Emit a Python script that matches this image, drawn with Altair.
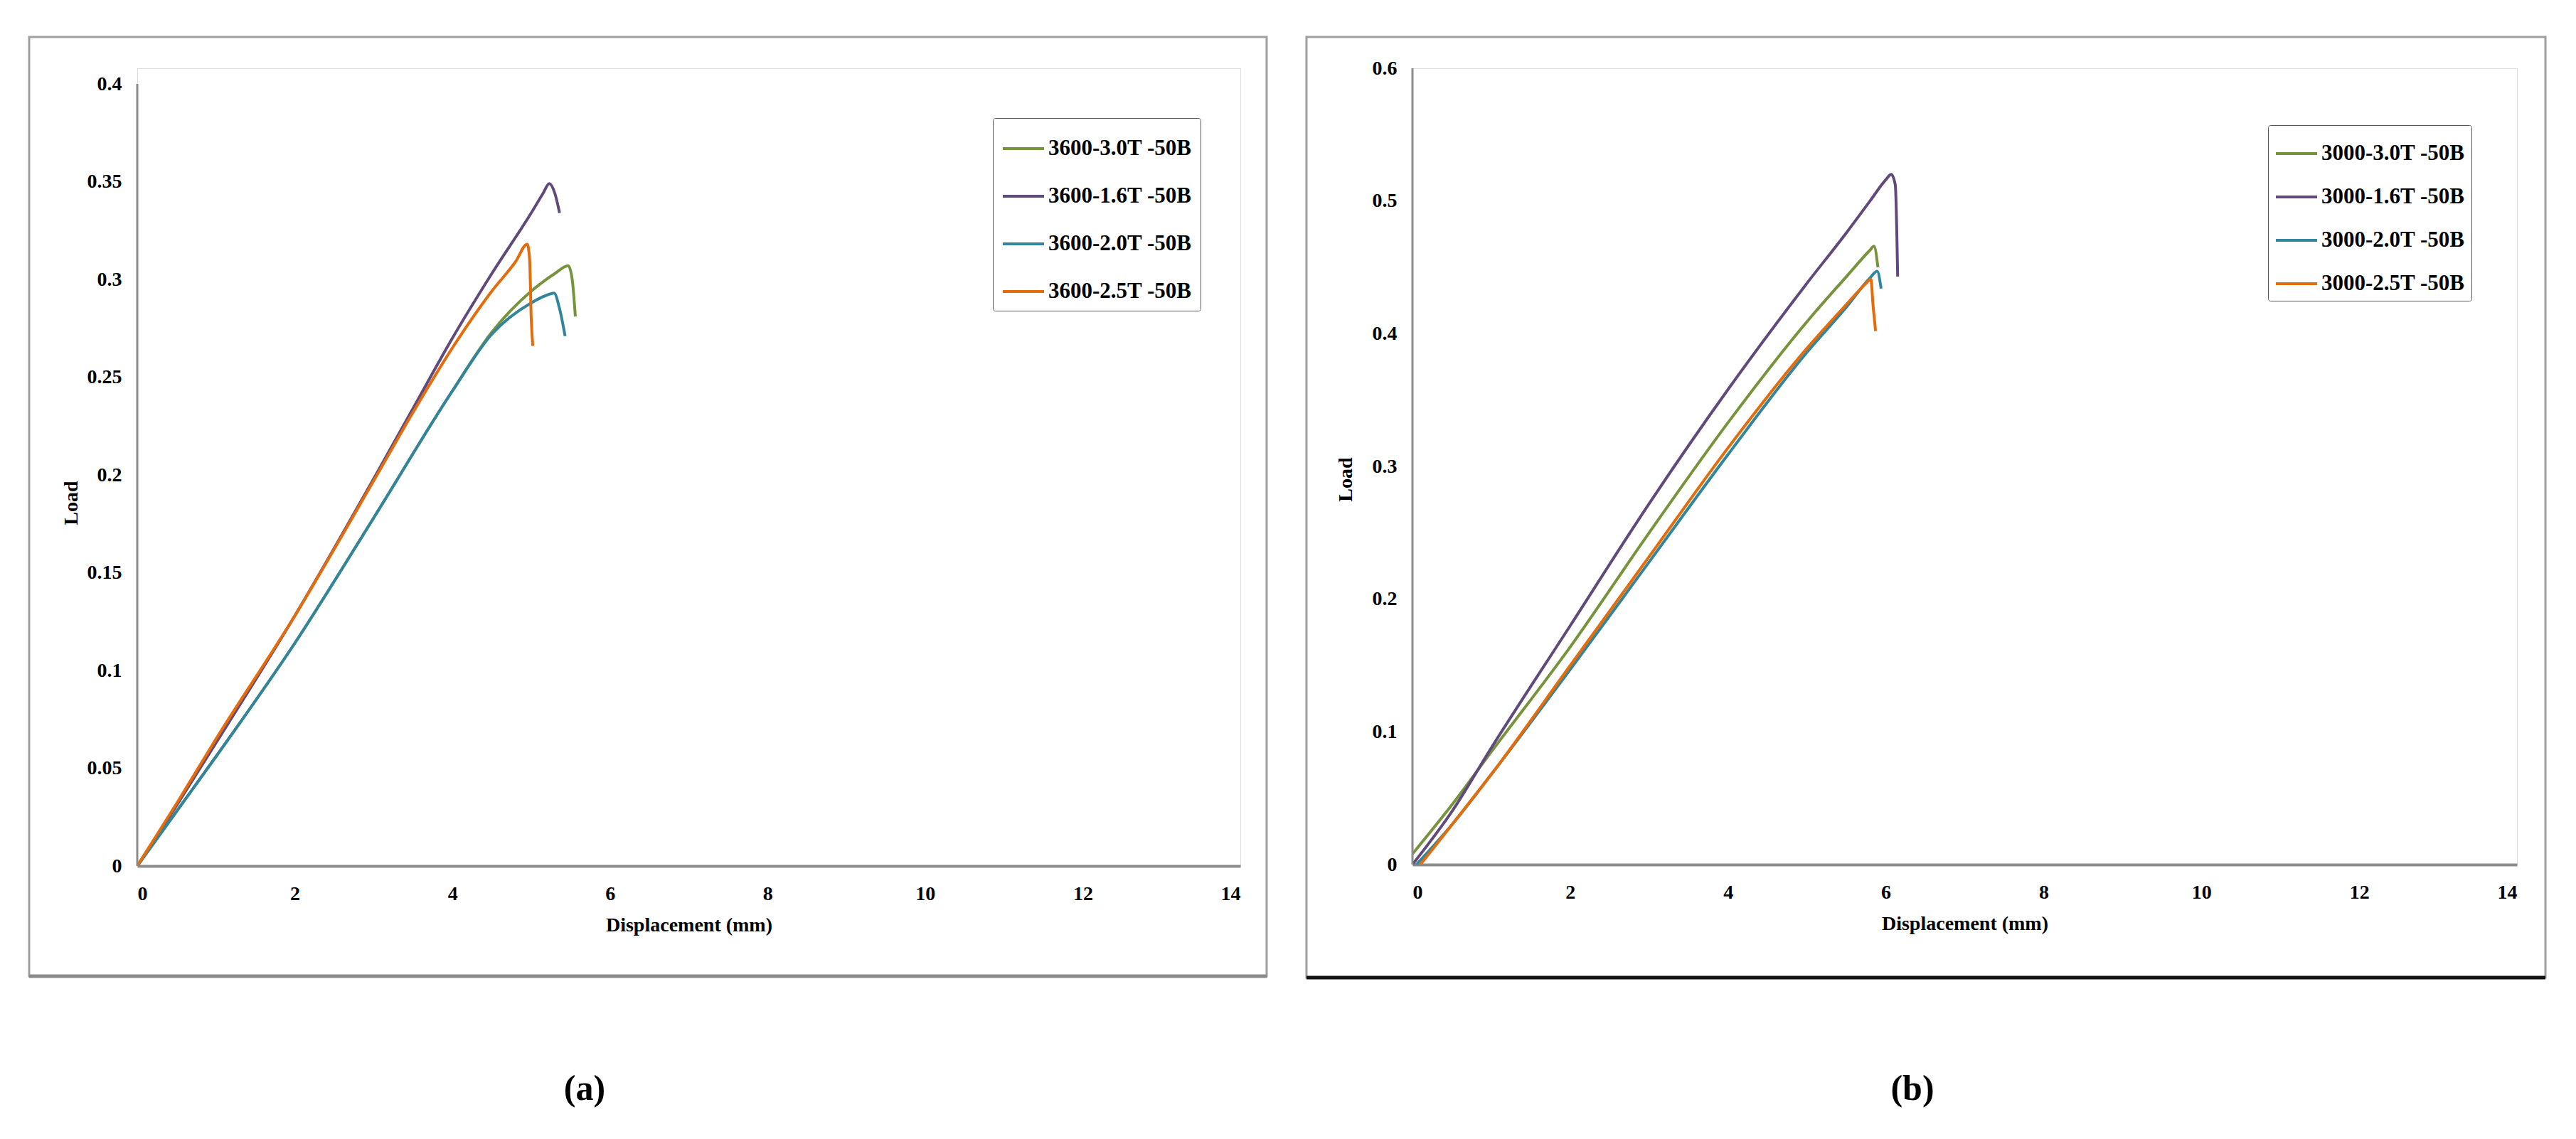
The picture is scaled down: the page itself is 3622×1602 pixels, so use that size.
import altair as alt
import pandas as pd

FONT = "Liberation Serif"

# ---------------- Panel (a): 3600 series ----------------
a_names = ["3600-3.0T -50B", "3600-1.6T -50B", "3600-2.0T -50B", "3600-2.5T -50B"]
a_x_30 = [0, 0.5, 1, 2, 3, 4, 4.5, 5, 5.3, 5.47, 5.52, 5.56]
a_y_30 = [0, 0.028, 0.056, 0.114, 0.178, 0.243, 0.273, 0.294, 0.303, 0.307, 0.300, 0.281]
a_x_16 = [0, 0.5, 1, 2, 3, 3.5, 4, 4.5, 5, 5.15, 5.23, 5.3, 5.36]
a_y_16 = [0, 0.031, 0.063, 0.128, 0.198, 0.234, 0.270, 0.303, 0.334, 0.344, 0.349, 0.344, 0.334]
a_x_20 = [0, 0.5, 1, 2, 3, 4, 4.5, 5, 5.2, 5.29, 5.36, 5.43]
a_y_20 = [0, 0.028, 0.056, 0.114, 0.178, 0.243, 0.272, 0.288, 0.292, 0.293, 0.285, 0.271]
a_x_25 = [0, 0.5, 1, 2, 3, 3.5, 4, 4.5, 4.8, 4.95, 4.98, 5.0, 5.02]
a_y_25 = [0, 0.032, 0.065, 0.128, 0.197, 0.232, 0.265, 0.294, 0.309, 0.318, 0.31, 0.28, 0.266]

# ---------------- Panel (b): 3000 series ----------------
b_names = ["3000-3.0T -50B", "3000-1.6T -50B", "3000-2.0T -50B", "3000-2.5T -50B"]
b_x_30 = [0, 0.5, 1, 2, 3, 4, 5, 5.5, 5.8, 5.85, 5.9]
b_y_30 = [0.008, 0.045, 0.085, 0.164, 0.250, 0.333, 0.409, 0.443, 0.463, 0.466, 0.450]
b_x_16 = [0, 0.5, 1, 2, 3, 4, 5, 5.5, 5.8, 6.0, 6.07, 6.12, 6.15]
b_y_16 = [0, 0.040, 0.088, 0.180, 0.272, 0.358, 0.438, 0.476, 0.500, 0.516, 0.520, 0.512, 0.443]
b_x_20 = [0.05, 0.5, 1, 2, 3, 4, 5, 5.5, 5.8, 5.89, 5.94]
b_y_20 = [0, 0.030, 0.068, 0.147, 0.228, 0.309, 0.386, 0.420, 0.442, 0.447, 0.434]
b_x_25 = [0.1, 0.5, 1, 2, 3, 4, 5, 5.5, 5.75, 5.81, 5.84, 5.87]
b_y_25 = [0, 0.030, 0.068, 0.150, 0.232, 0.314, 0.389, 0.422, 0.438, 0.441, 0.420, 0.402]

colors = ["#77933C", "#604A7B", "#31859C", "#E46C0A"]
x_ticks = [0, 2, 4, 6, 8, 10, 12, 14]
a_y_ticks = [0, 0.05, 0.1, 0.15, 0.2, 0.25, 0.3, 0.35, 0.4]
b_y_ticks = [0, 0.1, 0.2, 0.3, 0.4, 0.5, 0.6]


def frame(names, xs, ys):
    rows = []
    for name, xl, yl in zip(names, xs, ys):
        for i, (x, y) in enumerate(zip(xl, yl)):
            rows.append({"series": name, "disp": x, "load": y, "idx": i})
    return pd.DataFrame(rows)


def panel(df, names, yticks, ymax, scale_top, w, h, legend_xy, legend_pad, legend_row, title_y, border,
          bottom_color, label, label_xy, title_x_off):
    yscale = alt.Scale(domain=[0, scale_top], nice=False)
    lines = alt.Chart(df).mark_line(strokeWidth=4, clip=True, interpolate="monotone").encode(
        x=alt.X("disp:Q", scale=alt.Scale(domain=[0, 14], nice=False),
                axis=alt.Axis(values=x_ticks, title="Displacement (mm)", grid=False, ticks=False,
                              labelFont=FONT, labelFontSize=28, labelFontWeight="bold", labelColor="black",
                              labelPadding=25, domainColor="#8c8c8c", domainWidth=4,
                              titleFont=FONT, titleFontSize=28, titleFontWeight="bold", titleColor="black",
                              titleY=83, titleBaseline="middle")),
        y=alt.Y("load:Q", scale=yscale,
                axis=alt.Axis(values=yticks, format="~g", title="Load", grid=False, ticks=False,
                              domain=False,
                              labelFont=FONT, labelFontSize=28, labelFontWeight="bold", labelColor="black",
                              labelPadding=22,
                              titleFont=FONT, titleFontSize=28, titleFontWeight="bold", titleColor="black",
                              titleX=title_x_off, titleY=title_y, titleBaseline="middle", titleAngle=270)),
        color=alt.Color("series:N", scale=alt.Scale(domain=names, range=colors),
                        legend=alt.Legend(title=None, orient="none", legendX=legend_xy[0], legendY=legend_xy[1],
                                          symbolType="stroke", symbolSize=3364, symbolStrokeWidth=4,
                                          labelFont=FONT, labelFontSize=31, labelFontWeight="bold",
                                          labelColor="black", labelOffset=4, padding=legend_pad,
                                          rowPadding=legend_row,
                                          strokeColor="#555555", fillColor="white", cornerRadius=3,
                                          labelLimit=400)),
        order="idx:Q",
    )
    # y axis line from 0 up to the top tick
    yline = alt.Chart(pd.DataFrame({"k": [0]})).mark_rule(stroke="#8c8c8c", strokeWidth=3).encode(
        x=alt.value(0), y=alt.datum(0, scale=yscale), y2=alt.datum(ymax))
    one = pd.DataFrame({"k": [0]})
    box = alt.Chart(one).mark_rect(fill="transparent", stroke="#a0a0a0", strokeWidth=3).encode(
        x=alt.value(border[0]), x2=alt.value(border[1]), y=alt.value(border[2]), y2=alt.value(border[3]))
    bottom = alt.Chart(one).mark_rule(stroke=bottom_color, strokeWidth=5).encode(
        x=alt.value(border[0]), x2=alt.value(border[1]), y=alt.value(border[3]))
    tag = alt.Chart(one).mark_text(font=FONT, fontSize=50, fontWeight="bold", color="black").encode(
        x=alt.value(label_xy[0]), y=alt.value(label_xy[1]), text=alt.value(label))
    return alt.layer(box, bottom, lines, yline, tag).properties(width=w, height=h)


df_a = frame(a_names, [a_x_30, a_x_16, a_x_20, a_x_25], [a_y_30, a_y_16, a_y_20, a_y_25])
df_b = frame(b_names, [b_x_30, b_x_16, b_x_20, b_x_25], [b_y_30, b_y_16, b_y_20, b_y_25])

# left plot area starts 22px above its 0.4 tick so both panel frames share the same top
left = panel(df_a, a_names, a_y_ticks, 0.4, 0.4 * 1122 / 1100, 1551, 1122, (1203, 70), 12, 21, 611,
             (-152, 1588, -44, 1277), "#8a8a8a", "(a)", (629, 1436), -93)
right = panel(df_b, b_names, b_y_ticks, 0.6, 0.6, 1553, 1120, (1203, 80), 9, 15, 578,
              (-149, 1593, -44, 1279), "#111111", "(b)", (703, 1436), -94)

chart = alt.hconcat(left, right, spacing=50).resolve_scale(
    color="independent").properties(
    padding={"left": 30, "top": 42, "right": 0, "bottom": 0}
).configure_view(stroke=None).configure(background="white")

chart.save("out.html", embed_options={"renderer": "svg", "actions": False})
